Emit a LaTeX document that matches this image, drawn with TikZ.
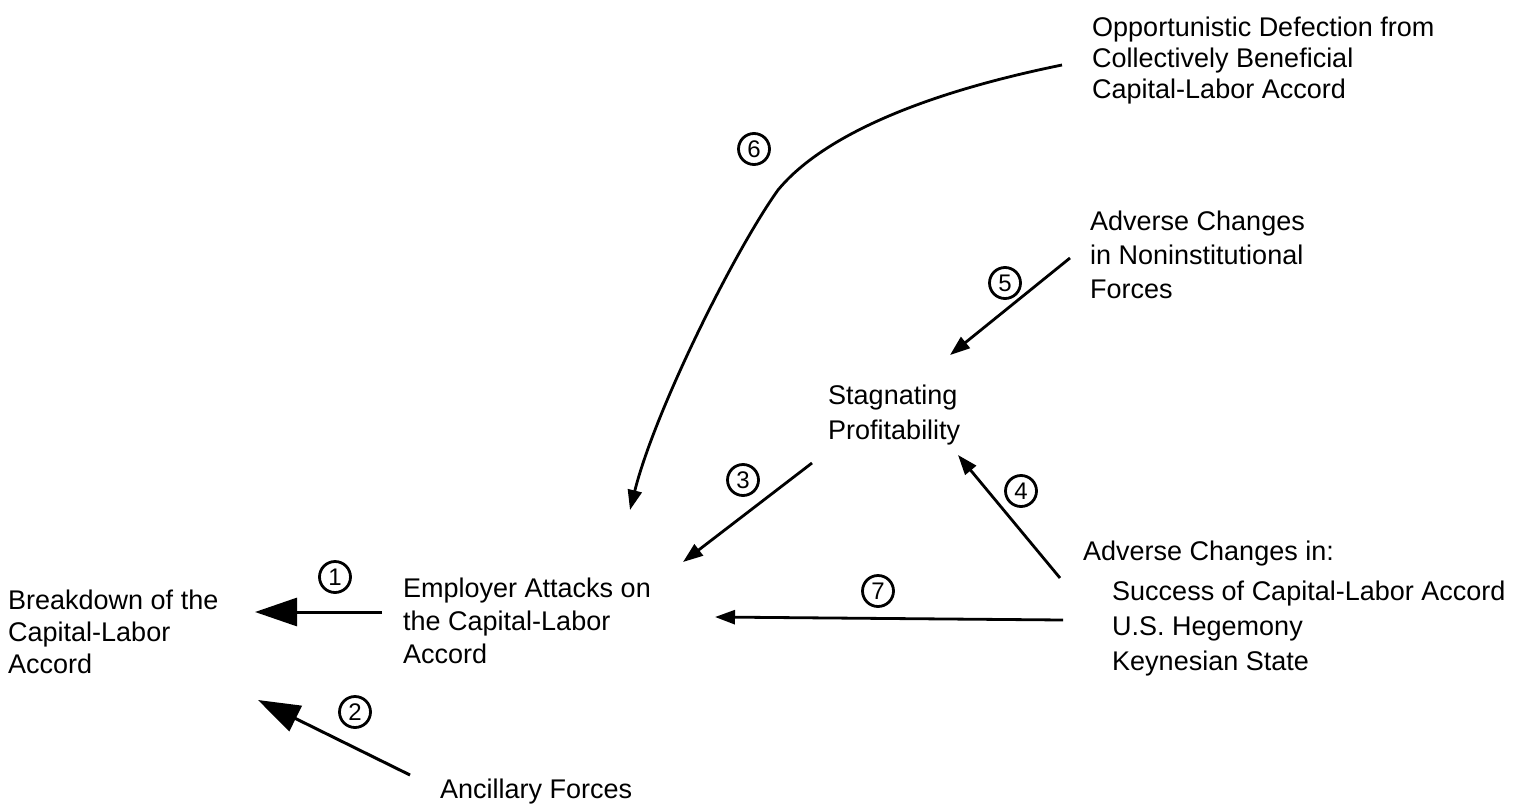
\documentclass[tikz,border=0pt]{standalone}
\usepackage{fontspec}
\setmainfont{Liberation Sans}
\usetikzlibrary{arrows.meta}
\tikzset{
  lbl/.style={anchor=north west, align=left, inner sep=0pt, font=\fontsize{27}{32}\selectfont},
  num/.style={circle, draw, line width=2.8pt, inner sep=0pt, minimum size=31pt, font=\fontsize{24}{24}\selectfont},
  sarrow/.style={line width=2.8pt, -{Triangle[length=20pt, width=14pt]}},
  barrow/.style={line width=3pt, -{Triangle[length=42pt, width=28pt]}},
}
\begin{document}
\begin{tikzpicture}[x=1pt, y=-1pt]
\useasboundingbox (0,0) rectangle (1514,808);
% text nodes
\node[lbl] (brk) at (8,590) {Breakdown of the\\Capital-Labor\\Accord};
\node[lbl, font=\fontsize{27}{33}\selectfont] (emp) at (403,578) {Employer Attacks on\\the Capital-Labor\\Accord};
\node[lbl] (anc) at (440,779) {Ancillary Forces};
\node[lbl, font=\fontsize{27}{35}\selectfont] (stag) at (828,385) {Stagnating\\Profitability};
\node[lbl, font=\fontsize{27}{34}\selectfont] (nonin) at (1090,211) {Adverse Changes\\in Noninstitutional\\Forces};
\node[lbl, font=\fontsize{27}{31}\selectfont] (opp) at (1092,17) {Opportunistic Defection from\\Collectively Beneficial\\Capital-Labor Accord};
\node[lbl] (adv) at (1083,541) {Adverse Changes in:};
\node[lbl, font=\fontsize{27}{35}\selectfont] (advlist) at (1112,581) {Success of Capital-Labor Accord\\U.S. Hegemony\\Keynesian State};
% connector endpoints
\coordinate (e1s) at (382,612); \coordinate (e1t) at (255,612);
\coordinate (e2s) at (410,775); \coordinate (e2t) at (258,700);
\coordinate (e3s) at (812,463); \coordinate (e3t) at (683,562);
\coordinate (e4s) at (1060,578); \coordinate (e4t) at (958,455);
\coordinate (e5s) at (1070,258); \coordinate (e5t) at (950,355);
\coordinate (e6s) at (1062,65); \coordinate (e6m) at (778,190); \coordinate (e6t) at (630,510);
\coordinate (e7s) at (1063,620); \coordinate (e7t) at (715,617);
% connectors
\draw[barrow] (e1s) -- (e1t);
\draw[barrow] (e2s) -- (e2t);
\draw[sarrow] (e3s) -- (e3t);
\draw[sarrow] (e4s) -- (e4t);
\draw[sarrow] (e5s) -- (e5t);
\draw[sarrow] (e6s) .. controls (900,98) and (815,145) .. (e6m) .. controls (735,250) and (655,410) .. (e6t);
\draw[sarrow] (e7s) -- (e7t);
% numbers
\node[num] (n1) at (335,577) {1};
\node[num] (n2) at (355,712) {2};
\node[num] (n3) at (743,480) {3};
\node[num] (n4) at (1021,491) {4};
\node[num] (n5) at (1005,283) {5};
\node[num] (n6) at (754,149) {6};
\node[num] (n7) at (878,591) {7};
\end{tikzpicture}
\end{document}
